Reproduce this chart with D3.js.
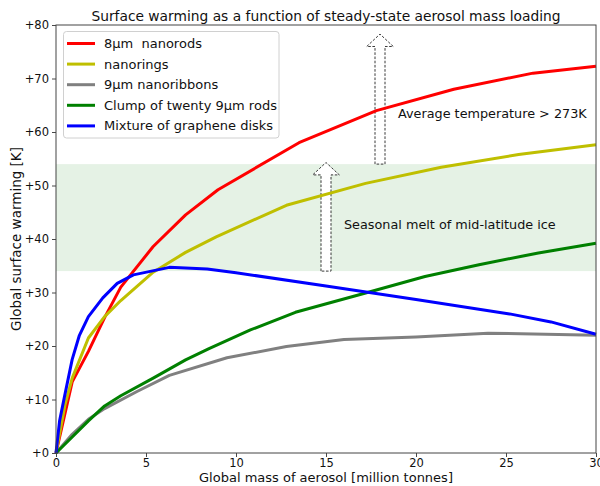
<!DOCTYPE html>
<html>
<head>
<meta charset="utf-8">
<script src="https://cdn.jsdelivr.net/npm/d3@7/dist/d3.min.js"></script>
<style>
  html, body { margin: 0; padding: 0; background: #fff; }
  svg { display: block; font-family: "DejaVu Sans", sans-serif; }
</style>
</head>
<body>
<svg id="chart" width="600" height="486"></svg>
<script>
// Aerosol loading (million tonnes) vs. global surface warming (K), one array per material
const nanorods8 = [[0,0],[0.9,13.3],[1.8,19],[2.7,25.3],[3.6,31],[5.4,38.6],[7.2,44.5],[9.0,49.2],[13.5,58],[17.8,64],[22.1,68],[26.5,71],[30,72.3]];
const nanorings = [[0,0],[0.5,9],[0.9,14],[1.8,21.5],[2.7,25.5],[3.6,28.5],[5.4,33.8],[7.2,37.5],[8.9,40.4],[12.8,46.3],[17.2,50.4],[21.4,53.4],[25.7,55.8],[30,57.6]];
const nanoribbons9 = [[0,0],[0.9,3.5],[1.8,6.3],[2.7,8.3],[4.5,11.5],[6.3,14.5],[9.5,17.8],[12.8,19.9],[16,21.2],[20,21.7],[24,22.4],[30,22.0]];
const clump9 = [[0,0],[0.9,3],[1.8,6],[2.7,8.8],[3.6,10.7],[5.4,14],[7.2,17.4],[8.5,19.5],[10.8,23],[13.3,26.3],[17.1,29.8],[20.5,33],[23.5,35.2],[26.8,37.4],[30,39.2]];
const grapheneDisks = [[0,0],[0.2,6],[0.5,11],[0.9,17.5],[1.3,22],[1.8,25.5],[2.6,29],[3.4,31.7],[4.3,33.3],[6.3,34.7],[8.4,34.4],[10,33.7],[15,31.2],[20,28.7],[25.2,26],[27.5,24.5],[30,22.2]];

const seriesNames = ["8\u03bcm  nanorods", "nanorings", "9\u03bcm nanoribbons", "Clump of twenty 9\u03bcm rods", "Mixture of graphene disks"];
const seriesData = [nanorods8, nanorings, nanoribbons9, clump9, grapheneDisks];
const seriesColors = ["#ff0000", "#bfbf00", "#808080", "#008000", "#0000ff"];

const xTicks = [0, 5, 10, 15, 20, 25, 30];
const yTicks = [0, 10, 20, 30, 40, 50, 60, 70, 80];

// Seasonal-melt band and the two threshold arrows: [x, from, to]
const meltBand = [34, 54];
const arrows = [[18, 54, 78.3], [15, 34, 54.3]];
const notes = [
  { text: "Average temperature > 273K", x: 19.0, y: 63.3 },
  { text: "Seasonal melt of mid-latitude ice", x: 16.0, y: 42.5 }
];

const margin = { left: 56, right: 4, top: 25, bottom: 33 };
const W = 600, H = 486;
const svg = d3.select("#chart");

const x = d3.scaleLinear().domain([0, 30]).range([margin.left, W - margin.right]);
const y = d3.scaleLinear().domain([0, 80]).range([H - margin.bottom, margin.top]);

// shaded band
svg.append("rect")
  .attr("x", x(0)).attr("width", x(30) - x(0))
  .attr("y", y(meltBand[1])).attr("height", y(meltBand[0]) - y(meltBand[1]))
  .attr("fill", "#008000").attr("fill-opacity", 0.1);

// arrows
const shaftHalf = 5, headHalf = 13.3, headLen = 12.4;
arrows.forEach(([ax, y0, y1]) => {
  const cx = x(ax), yb = y(y0), yt = y(y1);
  const p = d3.path();
  p.moveTo(cx - shaftHalf, yb);
  p.lineTo(cx - shaftHalf, yt + headLen);
  p.lineTo(cx - headHalf, yt + headLen);
  p.lineTo(cx, yt);
  p.lineTo(cx + headHalf, yt + headLen);
  p.lineTo(cx + shaftHalf, yt + headLen);
  p.lineTo(cx + shaftHalf, yb);
  p.closePath();
  svg.append("path").attr("d", p.toString())
    .attr("fill", "#fff").attr("stroke", "#222")
    .attr("stroke-width", 0.9).attr("stroke-dasharray", "2.6,1.6");
});

// notes
notes.forEach(n => {
  svg.append("text").attr("x", x(n.x)).attr("y", y(n.y))
    .attr("dominant-baseline", "middle")
    .attr("font-size", 12.8).attr("fill", "#111").text(n.text);
});

// series lines
const line = d3.line().x(d => x(d[0])).y(d => y(d[1]));
seriesData.forEach((s, i) => {
  svg.append("path").datum(s).attr("d", line)
    .attr("fill", "none").attr("stroke", seriesColors[i])
    .attr("stroke-width", 3).attr("stroke-linejoin", "round").attr("stroke-linecap", "butt");
});

// axes
const xAxis = d3.axisBottom(x).tickValues(xTicks).tickSize(4).tickPadding(2).tickFormat(d3.format("d"));
const yAxis = d3.axisLeft(y).tickValues(yTicks).tickSize(4).tickPadding(3).tickFormat(d => "+" + d);
const gx = svg.append("g").attr("transform", `translate(0,${y(0)})`).call(xAxis);
const gy = svg.append("g").attr("transform", `translate(${x(0)},0)`).call(yAxis);
[gx, gy].forEach(g => {
  g.select(".domain").remove();
  g.selectAll("line").attr("stroke", "#333").attr("stroke-width", 0.9);
  g.selectAll("text").attr("font-size", 11.5).attr("fill", "#111").attr("font-family", "DejaVu Sans");
});

// frame
svg.append("rect")
  .attr("x", x(0)).attr("y", y(80))
  .attr("width", x(30) - x(0)).attr("height", y(0) - y(80))
  .attr("fill", "none").attr("stroke", "#444").attr("stroke-width", 1);

// title and axis labels
svg.append("text").attr("x", (x(0) + x(30)) / 2).attr("y", 21)
  .attr("text-anchor", "middle").attr("font-size", 13.8).attr("fill", "#111")
  .text("Surface warming as a function of steady-state aerosol mass loading");
svg.append("text").attr("x", (x(0) + x(30)) / 2).attr("y", 482)
  .attr("text-anchor", "middle").attr("font-size", 13).attr("fill", "#111")
  .text("Global mass of aerosol [million tonnes]");
svg.append("text")
  .attr("transform", `translate(21,${(y(0) + y(80)) / 2}) rotate(-90)`)
  .attr("text-anchor", "middle").attr("font-size", 13.5).attr("fill", "#111")
  .text("Global surface warming [K]");

// legend
const lg = svg.append("g");
lg.append("rect").attr("x", 63.5).attr("y", 31.5).attr("width", 215.5).attr("height", 106.5)
  .attr("rx", 3).attr("fill", "#fff").attr("fill-opacity", 0.85)
  .attr("stroke", "#d0d0d0").attr("stroke-width", 1);
seriesNames.forEach((name, i) => {
  const ry = 43.5 + i * 20.6;
  lg.append("line").attr("x1", 67).attr("x2", 95).attr("y1", ry).attr("y2", ry)
    .attr("stroke", seriesColors[i]).attr("stroke-width", 3);
  lg.append("text").attr("x", 104).attr("y", ry).attr("dominant-baseline", "central")
    .attr("font-size", 13).attr("fill", "#111").style("white-space", "pre").text(name);
});
</script>
</body>
</html>
